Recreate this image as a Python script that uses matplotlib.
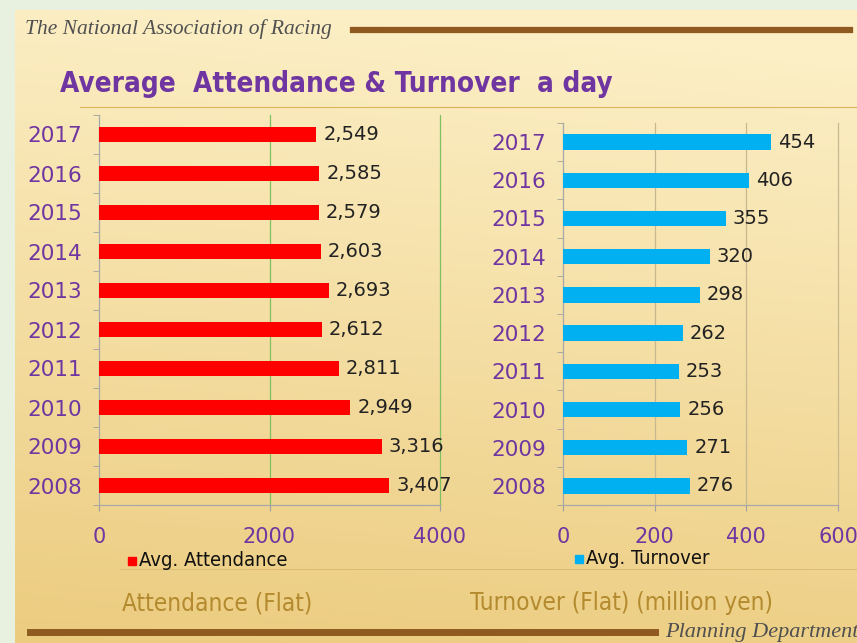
import matplotlib
matplotlib.use("Agg")
import matplotlib.pyplot as plt
import numpy as np
from matplotlib.lines import Line2D
from matplotlib.patches import Rectangle

years = ["2017", "2016", "2015", "2014", "2013", "2012", "2011", "2010", "2009", "2008"]
attendance = [2549, 2585, 2579, 2603, 2693, 2612, 2811, 2949, 3316, 3407]
turnover = [454, 406, 355, 320, 298, 262, 253, 256, 271, 276]
att_ticks = [0, 2000, 4000]
turn_ticks = [0, 200, 400, 600]

W, H = 857, 643
purple = "#6f35a0"
narrow = dict(family="DejaVu Sans", stretch="condensed")

fig = plt.figure(figsize=(W / 100, H / 100), dpi=100)
fig.patch.set_facecolor("#e8f1df")

def fx(px):
    return px / W

def fy(py):
    return 1 - py / H

# slide background (smooth gradient)
bg = fig.add_axes([fx(15), 0, 1 - fx(15), fy(10)], zorder=-10)
gy = np.linspace(0, 1, 200)[:, None]
gx = np.linspace(0, 1, 200)[None, :]
top = np.array([0.99, 0.94, 0.78])
bot = np.array([0.925, 0.80, 0.50])
t = np.clip(gy * 0.95 - gx * 0.12 + 0.06, 0, 1)
img = top[None, None, :] * (1 - t[..., None]) + bot[None, None, :] * t[..., None]
bg.imshow(img, aspect="auto", extent=[0, 1, 0, 1])
bg.set_axis_off()

# header and footer
fig.text(fx(25), fy(29), "The National Association of Racing", fontsize=15.5,
         family="Liberation Serif", style="italic", color="#505050", va="center")
fig.add_artist(Line2D([fx(353), fx(850)], [fy(30), fy(30)], lw=4.5, color="#8e5a1f"))
fig.text(fx(60), fy(84), "Average  Attendance & Turnover  a day", fontsize=20,
         weight="bold", color=purple, va="center", **narrow)
fig.add_artist(Line2D([fx(80), fx(857)], [fy(107), fy(107)], lw=0.8, color="#d9b45a"))
fig.add_artist(Line2D([fx(120), fx(857)], [fy(569), fy(569)], lw=0.6, color="#d9b870"))
fig.add_artist(Line2D([fx(30), fx(655)], [fy(632), fy(632)], lw=5, color="#8e5a1f"))
fig.text(fx(665), fy(633), "Planning Department", fontsize=16,
         family="Liberation Serif", style="italic", color="#505050", va="center")

fig.text(fx(122), fy(603), "Attendance (Flat)", fontsize=17.5,
         color="#b38a2e", va="center", **narrow)
fig.text(fx(470), fy(603), "Turnover (Flat) (million yen)", fontsize=17.5,
         color="#b38a2e", va="center", **narrow)


def panel(rect, values, ticks, color, gridcolor, label, leg_x, leg_y):
    ax = fig.add_axes(rect)
    ax.patch.set_alpha(0)
    pos = np.arange(len(years))
    bars = ax.barh(pos, values, height=0.4, color=color, zorder=3)
    ax.bar_label(bars, labels=[f"{v:,}" for v in values], padding=5,
                 fontsize=14, color="#222222")
    ax.set_ylim(len(years) - 0.5, -0.5)
    ax.set_xlim(ticks[0], ticks[-1])
    ax.set_yticks(pos)
    ax.set_yticklabels(years, fontsize=15.5, color=purple)
    ax.set_yticks(np.arange(len(years) + 1) - 0.5, minor=True)
    ax.tick_params(axis="y", which="major", length=0, pad=12)
    ax.tick_params(axis="y", which="minor", length=4, color="#a0a0a0")
    ax.set_xticks(ticks)
    ax.set_xticklabels([str(v) for v in ticks], fontsize=15, color=purple)
    ax.tick_params(axis="x", length=4, color="#a0a0a0", pad=12)
    ax.grid(axis="x", color=gridcolor, lw=0.9, zorder=0)
    for i, g in enumerate(ax.get_xgridlines()):
        g.set_clip_on(False)
        if i == 0:
            g.set_visible(False)
    for s in ["top", "right"]:
        ax.spines[s].set_visible(False)
    for s in ["left", "bottom"]:
        ax.spines[s].set_color("#a8a8a8")
        ax.spines[s].set_linewidth(0.9)
    fig.add_artist(Rectangle((fx(leg_x), fy(leg_y + 4.5)), fx(8), 8 / H, color=color))
    fig.text(fx(leg_x + 11), fy(leg_y), label, fontsize=14.5,
             color="#111111", va="center", **narrow)
    return ax


panel([fx(99), fy(505), fx(341), 390 / H], attendance, att_ticks,
      "#ff0000", "#7fc060", "Avg. Attendance", 128, 560)
panel([fx(563), fy(505), fx(275), 382 / H], turnover, turn_ticks,
      "#00b0f0", "#c8b890", "Avg. Turnover", 575, 558)

fig.savefig("out.png", dpi=100)
